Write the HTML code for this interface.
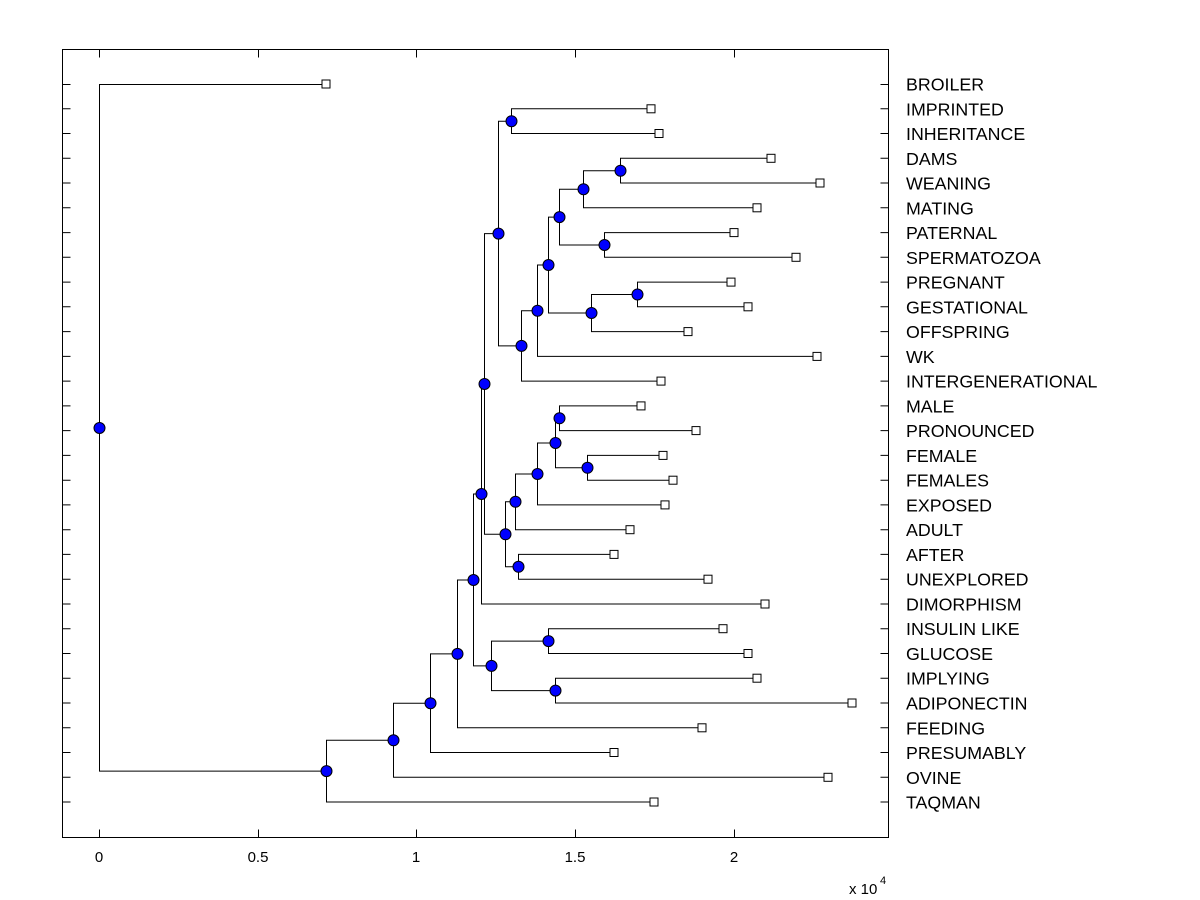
<!DOCTYPE html>
<html><head><meta charset="utf-8"><style>
html,body{margin:0;padding:0;background:#fff;}
svg{display:block;font-family:"Liberation Sans",Arial,sans-serif;}
</style></head><body>
<svg width="1200" height="900" viewBox="0 0 1200 900">
<rect x="0" y="0" width="1200" height="900" fill="#fff"/>
<rect x="62.5" y="49.5" width="826" height="788" fill="#fff" stroke="#000" stroke-width="1"/>
<g stroke="#000" stroke-width="1" fill="none">
<path d="M99.5 49.5v8M258.5 49.5v8M416.5 49.5v8M575.5 49.5v8M734.5 49.5v8M99.5 837.5v-8M258.5 837.5v-8M416.5 837.5v-8M575.5 837.5v-8M734.5 837.5v-8"/>
<path d="M62.5 84.5h8M62.5 108.8h8M62.5 133.5h8M62.5 158.3h8M62.5 183h8M62.5 207.8h8M62.5 232.6h8M62.5 257.3h8M62.5 282.1h8M62.5 306.8h8M62.5 331.6h8M62.5 356.4h8M62.5 381.1h8M62.5 405.9h8M62.5 430.6h8M62.5 455.4h8M62.5 480.2h8M62.5 504.9h8M62.5 529.7h8M62.5 554.4h8M62.5 579.2h8M62.5 604h8M62.5 628.7h8M62.5 653.5h8M62.5 678.2h8M62.5 703h8M62.5 727.8h8M62.5 752.5h8M62.5 777.3h8M62.5 802h8"/>
<path d="M888.5 84.5h-8M888.5 108.8h-8M888.5 133.5h-8M888.5 158.3h-8M888.5 183h-8M888.5 207.8h-8M888.5 232.6h-8M888.5 257.3h-8M888.5 282.1h-8M888.5 306.8h-8M888.5 331.6h-8M888.5 356.4h-8M888.5 381.1h-8M888.5 405.9h-8M888.5 430.6h-8M888.5 455.4h-8M888.5 480.2h-8M888.5 504.9h-8M888.5 529.7h-8M888.5 554.4h-8M888.5 579.2h-8M888.5 604h-8M888.5 628.7h-8M888.5 653.5h-8M888.5 678.2h-8M888.5 703h-8M888.5 727.8h-8M888.5 752.5h-8M888.5 777.3h-8M888.5 802h-8"/>
<path d="M326 84.5H99.5V771.1H326.5"/>
<path d="M393 740.3H326.5V802H654"/>
<path d="M430 703.2H393.5V777.3H828"/>
<path d="M457 653.9H430.5V752.5H614"/>
<path d="M473 580H457.5V727.8H702"/>
<path d="M481 494H473.5V665.9H491"/>
<path d="M548 641.1H491.5V690.6H555"/>
<path d="M723 628.7H548.5V653.5H748"/>
<path d="M757 678.2H555.5V703H852"/>
<path d="M484 384H481.5V604H765"/>
<path d="M498 233.6H484.5V534.3H505"/>
<path d="M651 108.8H511.5V133.5H659"/>
<path d="M511 121.2H498.5V345.9H521"/>
<path d="M537 310.7H521.5V381.1H661"/>
<path d="M548 265H537.5V356.4H817"/>
<path d="M559 217.1H548.5V313H591"/>
<path d="M583 189.2H559.5V245H604"/>
<path d="M620 170.7H583.5V207.8H757"/>
<path d="M771 158.3H620.5V183H820"/>
<path d="M734 232.6H604.5V257.3H796"/>
<path d="M637 294.5H591.5V331.6H688"/>
<path d="M731 282.1H637.5V306.8H748"/>
<path d="M515 501.8H505.5V566.8H518"/>
<path d="M614 554.4H518.5V579.2H708"/>
<path d="M537 474H515.5V529.7H630"/>
<path d="M555 443H537.5V504.9H665"/>
<path d="M559 418.3H555.5V467.8H587"/>
<path d="M641 405.9H559.5V430.6H696"/>
<path d="M663 455.4H587.5V480.2H673"/>
</g>
<g fill="#fff" stroke="#000" stroke-width="1">
<rect x="322" y="80" width="8" height="8"/>
<rect x="647" y="104.8" width="8" height="8"/>
<rect x="655" y="129.5" width="8" height="8"/>
<rect x="767" y="154.3" width="8" height="8"/>
<rect x="816" y="179" width="8" height="8"/>
<rect x="753" y="203.8" width="8" height="8"/>
<rect x="730" y="228.6" width="8" height="8"/>
<rect x="792" y="253.3" width="8" height="8"/>
<rect x="727" y="278.1" width="8" height="8"/>
<rect x="744" y="302.8" width="8" height="8"/>
<rect x="684" y="327.6" width="8" height="8"/>
<rect x="813" y="352.4" width="8" height="8"/>
<rect x="657" y="377.1" width="8" height="8"/>
<rect x="637" y="401.9" width="8" height="8"/>
<rect x="692" y="426.6" width="8" height="8"/>
<rect x="659" y="451.4" width="8" height="8"/>
<rect x="669" y="476.2" width="8" height="8"/>
<rect x="661" y="500.9" width="8" height="8"/>
<rect x="626" y="525.7" width="8" height="8"/>
<rect x="610" y="550.4" width="8" height="8"/>
<rect x="704" y="575.2" width="8" height="8"/>
<rect x="761" y="600" width="8" height="8"/>
<rect x="719" y="624.7" width="8" height="8"/>
<rect x="744" y="649.5" width="8" height="8"/>
<rect x="753" y="674.2" width="8" height="8"/>
<rect x="848" y="699" width="8" height="8"/>
<rect x="698" y="723.8" width="8" height="8"/>
<rect x="610" y="748.5" width="8" height="8"/>
<rect x="824" y="773.3" width="8" height="8"/>
<rect x="650" y="798" width="8" height="8"/>
</g>
<g fill="#0000ff" stroke="#000" stroke-width="1">
<circle cx="99.5" cy="428" r="5.5"/>
<circle cx="326.5" cy="771.1" r="5.5"/>
<circle cx="393.5" cy="740.3" r="5.5"/>
<circle cx="430.5" cy="703.2" r="5.5"/>
<circle cx="457.5" cy="653.9" r="5.5"/>
<circle cx="473.5" cy="580" r="5.5"/>
<circle cx="481.5" cy="494" r="5.5"/>
<circle cx="491.5" cy="665.9" r="5.5"/>
<circle cx="548.5" cy="641.1" r="5.5"/>
<circle cx="555.5" cy="690.6" r="5.5"/>
<circle cx="484.5" cy="384" r="5.5"/>
<circle cx="498.5" cy="233.6" r="5.5"/>
<circle cx="511.5" cy="121.2" r="5.5"/>
<circle cx="521.5" cy="345.9" r="5.5"/>
<circle cx="537.5" cy="310.7" r="5.5"/>
<circle cx="548.5" cy="265" r="5.5"/>
<circle cx="559.5" cy="217.1" r="5.5"/>
<circle cx="583.5" cy="189.2" r="5.5"/>
<circle cx="620.5" cy="170.7" r="5.5"/>
<circle cx="604.5" cy="245" r="5.5"/>
<circle cx="591.5" cy="313" r="5.5"/>
<circle cx="637.5" cy="294.5" r="5.5"/>
<circle cx="505.5" cy="534.3" r="5.5"/>
<circle cx="518.5" cy="566.8" r="5.5"/>
<circle cx="515.5" cy="501.8" r="5.5"/>
<circle cx="537.5" cy="474" r="5.5"/>
<circle cx="555.5" cy="443" r="5.5"/>
<circle cx="559.5" cy="418.3" r="5.5"/>
<circle cx="587.5" cy="467.8" r="5.5"/>
</g>
<g font-size="17.8" fill="#000">
<text x="906" y="90.5">BROILER</text>
<text x="906" y="115.3">IMPRINTED</text>
<text x="906" y="140">INHERITANCE</text>
<text x="906" y="164.8">DAMS</text>
<text x="906" y="189.5">WEANING</text>
<text x="906" y="214.3">MATING</text>
<text x="906" y="239.1">PATERNAL</text>
<text x="906" y="263.8">SPERMATOZOA</text>
<text x="906" y="288.6">PREGNANT</text>
<text x="906" y="313.3">GESTATIONAL</text>
<text x="906" y="338.1">OFFSPRING</text>
<text x="906" y="362.9">WK</text>
<text x="906" y="387.6">INTERGENERATIONAL</text>
<text x="906" y="412.4">MALE</text>
<text x="906" y="437.1">PRONOUNCED</text>
<text x="906" y="461.9">FEMALE</text>
<text x="906" y="486.7">FEMALES</text>
<text x="906" y="511.4">EXPOSED</text>
<text x="906" y="536.2">ADULT</text>
<text x="906" y="560.9">AFTER</text>
<text x="906" y="585.7">UNEXPLORED</text>
<text x="906" y="610.5">DIMORPHISM</text>
<text x="906" y="635.2">INSULIN LIKE</text>
<text x="906" y="660">GLUCOSE</text>
<text x="906" y="684.7">IMPLYING</text>
<text x="906" y="709.5">ADIPONECTIN</text>
<text x="906" y="734.3">FEEDING</text>
<text x="906" y="759">PRESUMABLY</text>
<text x="906" y="783.8">OVINE</text>
<text x="906" y="808.5">TAQMAN</text>
</g>
<g font-size="15" fill="#000" text-anchor="middle">
<text x="99" y="862">0</text>
<text x="258" y="862">0.5</text>
<text x="416" y="862">1</text>
<text x="575" y="862">1.5</text>
<text x="734" y="862">2</text>
</g>
<text x="849" y="894" font-size="15">x 10</text>
<text x="880" y="884" font-size="11">4</text>
</svg>
</body></html>
